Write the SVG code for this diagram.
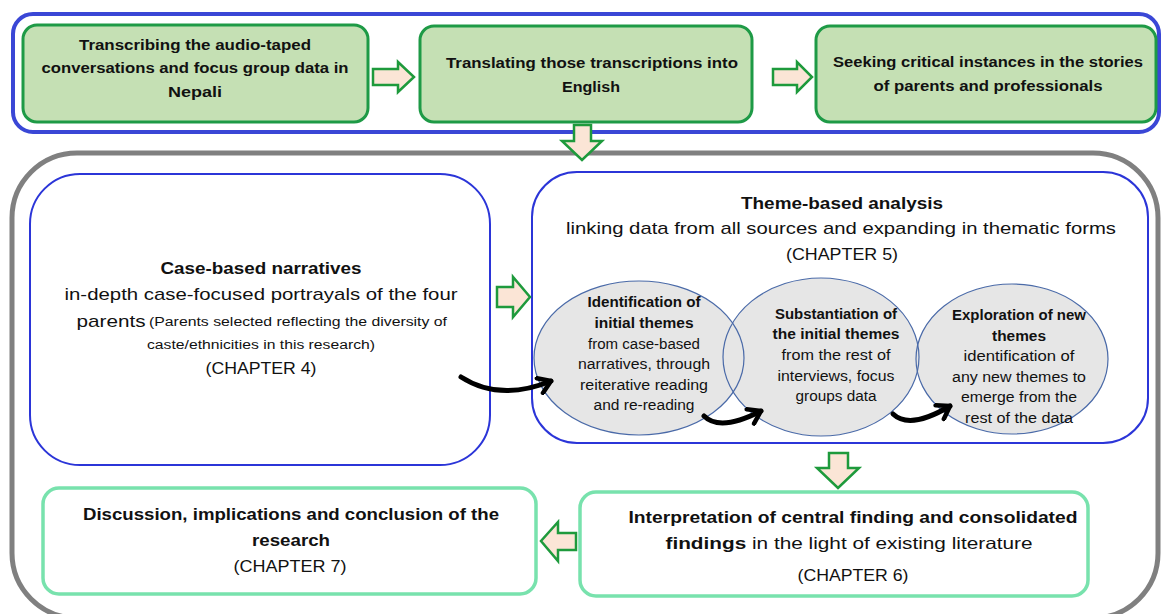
<svg xmlns="http://www.w3.org/2000/svg" width="1162" height="614" viewBox="0 0 1162 614">
<defs>
<style>
text{font-family:"Liberation Sans",Arial,sans-serif;fill:#111;text-anchor:middle}
.b{font-weight:bold}
.top{fill:#c5e0b4;stroke:#1e9a46;stroke-width:3}
.blk{fill:#fbe5d6;stroke:#1e9a3c;stroke-width:2.5;stroke-linejoin:miter}
.inner{fill:#fff;stroke:#2b35d8;stroke-width:2}
.ellf{fill:#e6e6e6;stroke:none}
.ells{fill:none;stroke:#4a6aa8;stroke-width:1.2}
.fin{fill:#fff;stroke:#78e2ad;stroke-width:3.5}
.curve{fill:none;stroke:#000;stroke-width:5;stroke-linecap:round}
.t14{font-size:14.5px}
.e{font-size:14px}
</style>
<marker id="chev" viewBox="0 0 20 20" refX="15" refY="10" markerWidth="20" markerHeight="20" markerUnits="userSpaceOnUse" orient="auto">
<path d="M3,2 L15,10 L3,18" fill="none" stroke="#000" stroke-width="4.5" stroke-linecap="round" stroke-linejoin="round"/>
</marker>
</defs>
<rect width="1162" height="614" fill="#fff"/>

<g id="frame-top">
<rect x="13" y="14" width="1146" height="118" rx="20" fill="none" stroke="#3a47d6" stroke-width="4"/>
</g>
<g id="frame-main">
<rect x="12" y="153" width="1146" height="465" rx="65" fill="none" stroke="#808080" stroke-width="5"/>
</g>

<g id="n-transcribe">
<rect class="top" x="23" y="25" width="345" height="97" rx="14"/>
<text class="b t14" x="195" y="50" textLength="232" lengthAdjust="spacingAndGlyphs">Transcribing the audio-taped</text>
<text class="b t14" x="195" y="73" textLength="307" lengthAdjust="spacingAndGlyphs">conversations and focus group data in</text>
<text class="b t14" x="195" y="97" textLength="54" lengthAdjust="spacingAndGlyphs">Nepali</text>
</g>
<g id="n-translate">
<rect class="top" x="420" y="26" width="332" height="96" rx="14"/>
<text class="b t14" x="592" y="68" textLength="292" lengthAdjust="spacingAndGlyphs">Translating those transcriptions into</text>
<text class="b t14" x="591" y="92" textLength="58" lengthAdjust="spacingAndGlyphs">English</text>
</g>
<g id="n-seek">
<rect class="top" x="816" y="26" width="340" height="96" rx="14"/>
<text class="b t14" x="988" y="67" textLength="310" lengthAdjust="spacingAndGlyphs">Seeking critical instances in the stories</text>
<text class="b t14" x="988" y="91" textLength="229" lengthAdjust="spacingAndGlyphs">of parents and professionals</text>
</g>

<g id="n-case">
<rect class="inner" x="30" y="174" width="460" height="291" rx="50"/>
<text class="b" x="261" y="274" font-size="16.5" textLength="201" lengthAdjust="spacingAndGlyphs">Case-based narratives</text>
<text x="261" y="300" font-size="17" textLength="393" lengthAdjust="spacingAndGlyphs">in-depth case-focused portrayals of the four</text>
<text x="111" y="327" font-size="17" textLength="69" lengthAdjust="spacingAndGlyphs">parents</text>
<text x="298" y="326" font-size="12.5" textLength="298" lengthAdjust="spacingAndGlyphs">(Parents selected reflecting the diversity of</text>
<text x="261" y="349" font-size="12.5" textLength="228" lengthAdjust="spacingAndGlyphs">caste/ethnicities in this research)</text>
<text x="261" y="374" font-size="16" textLength="111" lengthAdjust="spacingAndGlyphs">(CHAPTER 4)</text>
</g>

<g id="n-theme">
<rect class="inner" x="532" y="172" width="616" height="271" rx="45"/>
<text class="b" x="842" y="209" font-size="17" textLength="202" lengthAdjust="spacingAndGlyphs">Theme-based analysis</text>
<text x="841" y="234" font-size="17" textLength="550" lengthAdjust="spacingAndGlyphs">linking data from all sources and expanding in thematic forms</text>
<text x="842" y="260" font-size="16" textLength="112" lengthAdjust="spacingAndGlyphs">(CHAPTER 5)</text>
</g>

<g id="n-identify">
<ellipse class="ellf" cx="639" cy="358" rx="105" ry="77"/>
</g>
<g id="n-substantiate">
<ellipse class="ellf" cx="821" cy="357" rx="98" ry="79"/>
</g>
<g id="n-explore">
<ellipse class="ellf" cx="1012" cy="359" rx="96" ry="75"/>
</g>
<g id="ellipse-outlines">
<ellipse class="ells" cx="639" cy="358" rx="105" ry="77"/>
<ellipse class="ells" cx="821" cy="357" rx="98" ry="79"/>
<ellipse class="ells" cx="1012" cy="359" rx="96" ry="75"/>
</g>
<g id="n-identify-text">
<text class="b e" x="644" y="307" textLength="113" lengthAdjust="spacingAndGlyphs">Identification of</text>
<text class="b e" x="644" y="328" textLength="99" lengthAdjust="spacingAndGlyphs">initial themes</text>
<text class="e" x="644" y="349" textLength="112" lengthAdjust="spacingAndGlyphs">from case-based</text>
<text class="e" x="644" y="369" textLength="132" lengthAdjust="spacingAndGlyphs">narratives, through</text>
<text class="e" x="644" y="390" textLength="128" lengthAdjust="spacingAndGlyphs">reiterative reading</text>
<text class="e" x="644" y="410" textLength="101" lengthAdjust="spacingAndGlyphs">and re-reading</text>
</g>
<g id="n-substantiate-text">
<text class="b e" x="836" y="319" textLength="122" lengthAdjust="spacingAndGlyphs">Substantiation of</text>
<text class="b e" x="836" y="339" textLength="127" lengthAdjust="spacingAndGlyphs">the initial themes</text>
<text class="e" x="836" y="360" textLength="109" lengthAdjust="spacingAndGlyphs">from the rest of</text>
<text class="e" x="836" y="381" textLength="117" lengthAdjust="spacingAndGlyphs">interviews, focus</text>
<text class="e" x="836" y="401" textLength="81" lengthAdjust="spacingAndGlyphs">groups data</text>
</g>
<g id="n-explore-text">
<text class="b e" x="1019" y="320" textLength="134" lengthAdjust="spacingAndGlyphs">Exploration of new</text>
<text class="b e" x="1019" y="341" textLength="54" lengthAdjust="spacingAndGlyphs">themes</text>
<text class="e" x="1019" y="361" textLength="111" lengthAdjust="spacingAndGlyphs">identification of</text>
<text class="e" x="1019" y="382" textLength="134" lengthAdjust="spacingAndGlyphs">any new themes to</text>
<text class="e" x="1019" y="402" textLength="116" lengthAdjust="spacingAndGlyphs">emerge from the</text>
<text class="e" x="1019" y="423" textLength="108" lengthAdjust="spacingAndGlyphs">rest of the data</text>
</g>

<g id="n-interpret">
<rect class="fin" x="580" y="492" width="508" height="104" rx="16"/>
<text class="b" x="853" y="523" font-size="16.5" textLength="449" lengthAdjust="spacingAndGlyphs">Interpretation of central finding and consolidated</text>
<text x="849" y="549" font-size="16.5" textLength="367" lengthAdjust="spacingAndGlyphs"><tspan font-weight="bold">findings</tspan> in the light of existing literature</text>
<text x="853" y="581" font-size="16" textLength="111" lengthAdjust="spacingAndGlyphs">(CHAPTER 6)</text>
</g>
<g id="n-discuss">
<rect class="fin" x="43" y="488" width="493" height="106" rx="16"/>
<text class="b" x="291" y="520" font-size="16.5" textLength="416" lengthAdjust="spacingAndGlyphs">Discussion, implications and conclusion of the</text>
<text class="b" x="291" y="546" font-size="16.5" textLength="78" lengthAdjust="spacingAndGlyphs">research</text>
<text x="290" y="572" font-size="16" textLength="113" lengthAdjust="spacingAndGlyphs">(CHAPTER 7)</text>
</g>

<g id="connectors">
<path class="blk" d="M373,69 L398,69 L398,62 L414,77 L398,92 L398,85 L373,85 Z"/>
<path class="blk" d="M773,69 L797,69 L797,62 L812,77 L797,92 L797,85 L773,85 Z"/>
<path class="blk" d="M574,125 L591,125 L591,141 L602,141 L582,160 L562,141 L574,141 Z"/>
<path class="blk" d="M497,287 L513,287 L513,277 L530,297 L513,317 L513,307 L497,307 Z"/>
<path class="blk" d="M829,453 L848,453 L848,468 L859,468 L838,488 L817,468 L829,468 Z"/>
<path class="blk" d="M576,533 L558,533 L558,522 L541,541 L558,561 L558,550 L576,550 Z"/>
<path class="curve" marker-end="url(#chev)" d="M461,377 Q500,402 551,381"/>
<path class="curve" marker-end="url(#chev)" d="M704,416 Q720,432 761,411"/>
<path class="curve" marker-end="url(#chev)" d="M893,414 Q910,430 950,406"/>
</g>
</svg>
